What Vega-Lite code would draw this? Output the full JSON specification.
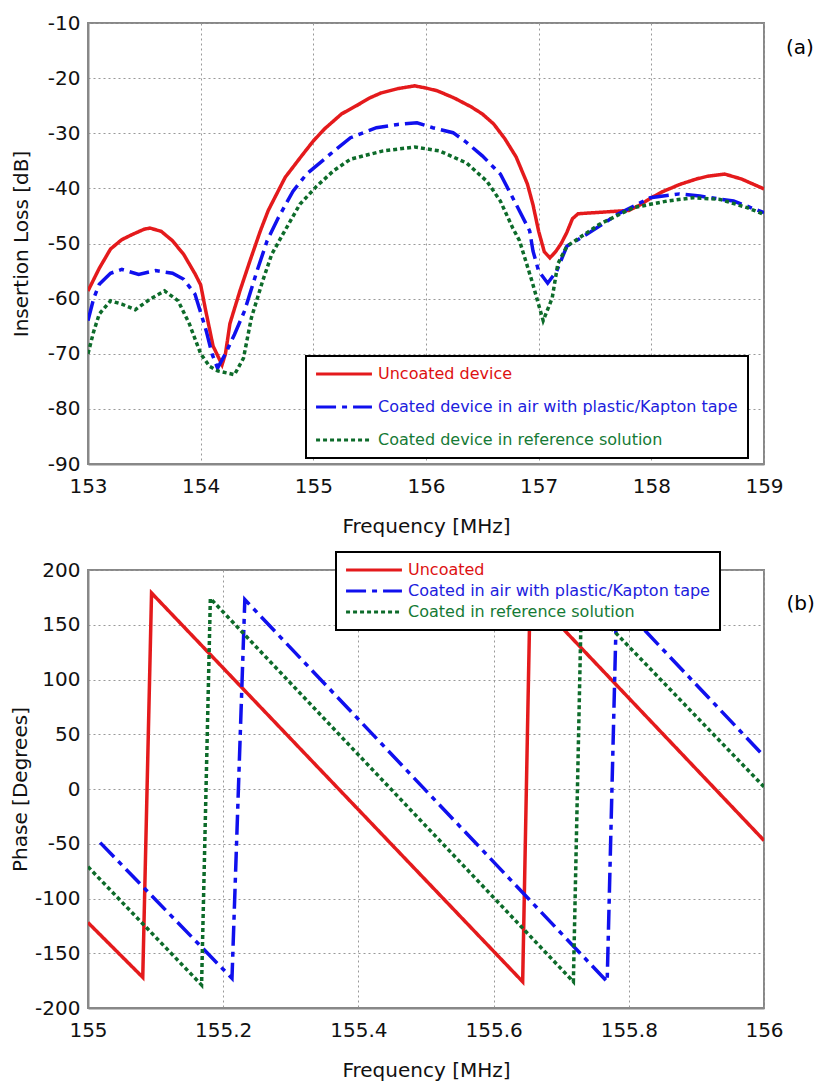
{
  "$schema": "https://vega.github.io/schema/vega-lite/v6.json",
  "background": "white",
  "padding": {"left": 9, "top": 12, "right": 0, "bottom": 0},
  "spacing": 13,
  "config": {
    "font": "DejaVu Sans",
    "view": {"stroke": "#888", "strokeWidth": 2},
    "axis": {
      "labelFontSize": 20, "titleFontSize": 20, "titleFontWeight": "normal",
      "labelColor": "#111", "titleColor": "#111",
      "gridColor": "#999", "gridDash": [2, 3], "gridWidth": 1,
      "domainColor": "#888", "domainWidth": 2,
      "tickSize": 0, "labelPadding": 8, "labelFlush": false, "labelOverlap": false,
      "labelExpr": "'' + datum.value"
    },
    "legend": {
      "labelFont": "DejaVu Sans", "labelFontSize": 16, "labelLimit": 600,
      "strokeColor": "black", "fillColor": "white", "strokeWidth": 2,
      "symbolType": "M-5,0H5", "symbolStrokeWidth": 3, "symbolSize": 125,
      "symbolOffset": 20, "labelOffset": 26, "padding": 10,
      "labelColor": {"expr": "datum.value == 'A' ? '#dd1111' : datum.value == 'B' ? '#2020dd' : '#157a35'"}
    }
  },
  "datasets": {
    "a": [
      {"f": 153.0, "v": -58.6, "s": "A"}, {"f": 153.1, "v": -54.5, "s": "A"}, {"f": 153.2, "v": -51, "s": "A"},
      {"f": 153.3, "v": -49.3, "s": "A"}, {"f": 153.4, "v": -48.3, "s": "A"}, {"f": 153.5, "v": -47.4, "s": "A"},
      {"f": 153.55, "v": -47.2, "s": "A"}, {"f": 153.65, "v": -47.8, "s": "A"}, {"f": 153.75, "v": -49.5, "s": "A"},
      {"f": 153.85, "v": -52, "s": "A"}, {"f": 153.95, "v": -55.5, "s": "A"}, {"f": 154.0, "v": -57.5, "s": "A"},
      {"f": 154.04, "v": -61.7, "s": "A"}, {"f": 154.11, "v": -68.6, "s": "A"}, {"f": 154.19, "v": -72, "s": "A"},
      {"f": 154.22, "v": -70, "s": "A"}, {"f": 154.26, "v": -64.5, "s": "A"}, {"f": 154.35, "v": -58.5, "s": "A"},
      {"f": 154.44, "v": -53, "s": "A"}, {"f": 154.53, "v": -47.7, "s": "A"}, {"f": 154.6, "v": -44, "s": "A"},
      {"f": 154.75, "v": -38, "s": "A"}, {"f": 154.9, "v": -34, "s": "A"}, {"f": 155.0, "v": -31.4, "s": "A"},
      {"f": 155.1, "v": -29.2, "s": "A"}, {"f": 155.25, "v": -26.5, "s": "A"}, {"f": 155.4, "v": -24.8, "s": "A"},
      {"f": 155.5, "v": -23.6, "s": "A"}, {"f": 155.6, "v": -22.7, "s": "A"}, {"f": 155.75, "v": -21.9, "s": "A"},
      {"f": 155.9, "v": -21.4, "s": "A"}, {"f": 156.0, "v": -21.8, "s": "A"}, {"f": 156.1, "v": -22.3, "s": "A"},
      {"f": 156.25, "v": -23.6, "s": "A"}, {"f": 156.4, "v": -25.2, "s": "A"}, {"f": 156.5, "v": -26.5, "s": "A"},
      {"f": 156.6, "v": -28.3, "s": "A"}, {"f": 156.7, "v": -31, "s": "A"}, {"f": 156.8, "v": -34.3, "s": "A"},
      {"f": 156.9, "v": -39.2, "s": "A"}, {"f": 156.95, "v": -43, "s": "A"}, {"f": 157.0, "v": -47.8, "s": "A"},
      {"f": 157.05, "v": -51.5, "s": "A"}, {"f": 157.1, "v": -52.6, "s": "A"}, {"f": 157.15, "v": -51.5, "s": "A"},
      {"f": 157.2, "v": -50, "s": "A"}, {"f": 157.25, "v": -48, "s": "A"}, {"f": 157.3, "v": -45.5, "s": "A"},
      {"f": 157.35, "v": -44.6, "s": "A"}, {"f": 157.5, "v": -44.4, "s": "A"}, {"f": 157.65, "v": -44.2, "s": "A"},
      {"f": 157.8, "v": -44, "s": "A"}, {"f": 157.9, "v": -43, "s": "A"}, {"f": 158.0, "v": -41.7, "s": "A"},
      {"f": 158.1, "v": -40.6, "s": "A"}, {"f": 158.25, "v": -39.3, "s": "A"}, {"f": 158.4, "v": -38.3, "s": "A"},
      {"f": 158.5, "v": -37.8, "s": "A"}, {"f": 158.65, "v": -37.4, "s": "A"}, {"f": 158.8, "v": -38.3, "s": "A"},
      {"f": 158.9, "v": -39.2, "s": "A"}, {"f": 159.0, "v": -40.1, "s": "A"},

      {"f": 153.0, "v": -64, "s": "B"}, {"f": 153.05, "v": -60, "s": "B"}, {"f": 153.1, "v": -57.4, "s": "B"},
      {"f": 153.2, "v": -55.4, "s": "B"}, {"f": 153.3, "v": -54.7, "s": "B"}, {"f": 153.45, "v": -55.6, "s": "B"},
      {"f": 153.6, "v": -54.9, "s": "B"}, {"f": 153.75, "v": -55.4, "s": "B"}, {"f": 153.85, "v": -56.5, "s": "B"},
      {"f": 153.95, "v": -59.2, "s": "B"}, {"f": 154.05, "v": -65.9, "s": "B"}, {"f": 154.1, "v": -70, "s": "B"},
      {"f": 154.15, "v": -72.6, "s": "B"}, {"f": 154.22, "v": -70, "s": "B"}, {"f": 154.3, "v": -66.5, "s": "B"},
      {"f": 154.39, "v": -62.2, "s": "B"}, {"f": 154.5, "v": -55, "s": "B"}, {"f": 154.59, "v": -49.5, "s": "B"},
      {"f": 154.69, "v": -45.3, "s": "B"}, {"f": 154.82, "v": -40.5, "s": "B"}, {"f": 154.94, "v": -37.4, "s": "B"},
      {"f": 155.15, "v": -33.8, "s": "B"}, {"f": 155.33, "v": -30.8, "s": "B"}, {"f": 155.56, "v": -29, "s": "B"},
      {"f": 155.75, "v": -28.4, "s": "B"}, {"f": 155.92, "v": -28.1, "s": "B"}, {"f": 156.06, "v": -29, "s": "B"},
      {"f": 156.24, "v": -29.9, "s": "B"}, {"f": 156.35, "v": -31.5, "s": "B"}, {"f": 156.5, "v": -34.1, "s": "B"},
      {"f": 156.66, "v": -37.4, "s": "B"}, {"f": 156.8, "v": -42.9, "s": "B"}, {"f": 156.92, "v": -47.7, "s": "B"},
      {"f": 156.95, "v": -51.4, "s": "B"}, {"f": 157.0, "v": -55, "s": "B"}, {"f": 157.08, "v": -57.2, "s": "B"},
      {"f": 157.16, "v": -55, "s": "B"}, {"f": 157.25, "v": -50.5, "s": "B"}, {"f": 157.43, "v": -48.3, "s": "B"},
      {"f": 157.7, "v": -44.7, "s": "B"}, {"f": 157.99, "v": -41.7, "s": "B"}, {"f": 158.25, "v": -41, "s": "B"},
      {"f": 158.43, "v": -41.4, "s": "B"}, {"f": 158.73, "v": -42.3, "s": "B"}, {"f": 159.0, "v": -44.4, "s": "B"},

      {"f": 153.0, "v": -70, "s": "C"}, {"f": 153.05, "v": -66, "s": "C"}, {"f": 153.1, "v": -62.8, "s": "C"},
      {"f": 153.2, "v": -60.4, "s": "C"}, {"f": 153.3, "v": -61, "s": "C"}, {"f": 153.42, "v": -62, "s": "C"},
      {"f": 153.55, "v": -60.1, "s": "C"}, {"f": 153.68, "v": -58.6, "s": "C"}, {"f": 153.8, "v": -60.4, "s": "C"},
      {"f": 153.9, "v": -64.6, "s": "C"}, {"f": 154.0, "v": -70, "s": "C"}, {"f": 154.08, "v": -72.3, "s": "C"},
      {"f": 154.15, "v": -73.1, "s": "C"}, {"f": 154.3, "v": -73.8, "s": "C"}, {"f": 154.38, "v": -70.8, "s": "C"},
      {"f": 154.45, "v": -63.5, "s": "C"}, {"f": 154.55, "v": -56.8, "s": "C"}, {"f": 154.63, "v": -52, "s": "C"},
      {"f": 154.73, "v": -48.3, "s": "C"}, {"f": 154.88, "v": -42.9, "s": "C"}, {"f": 155.03, "v": -39.6, "s": "C"},
      {"f": 155.18, "v": -36.8, "s": "C"}, {"f": 155.33, "v": -34.7, "s": "C"}, {"f": 155.62, "v": -33.2, "s": "C"},
      {"f": 155.9, "v": -32.5, "s": "C"}, {"f": 156.12, "v": -33.2, "s": "C"}, {"f": 156.36, "v": -35.4, "s": "C"},
      {"f": 156.54, "v": -38.7, "s": "C"}, {"f": 156.66, "v": -42.3, "s": "C"}, {"f": 156.77, "v": -47.2, "s": "C"},
      {"f": 156.83, "v": -49.5, "s": "C"}, {"f": 156.94, "v": -56.8, "s": "C"}, {"f": 157.04, "v": -64, "s": "C"},
      {"f": 157.12, "v": -59.9, "s": "C"}, {"f": 157.17, "v": -53.7, "s": "C"}, {"f": 157.25, "v": -50.5, "s": "C"},
      {"f": 157.54, "v": -46.5, "s": "C"}, {"f": 157.84, "v": -43.5, "s": "C"}, {"f": 158.14, "v": -42.3, "s": "C"},
      {"f": 158.37, "v": -41.7, "s": "C"}, {"f": 158.61, "v": -42, "s": "C"}, {"f": 158.85, "v": -43.5, "s": "C"},
      {"f": 159.0, "v": -44.7, "s": "C"}
    ],
    "b": [
      {"f": 155.0, "v": -122, "s": "A"}, {"f": 155.081, "v": -172, "s": "A"}, {"f": 155.094, "v": 179, "s": "A"},
      {"f": 155.643, "v": -176, "s": "A"}, {"f": 155.654, "v": 178, "s": "A"}, {"f": 156.0, "v": -47, "s": "A"},
      {"f": 155.018, "v": -49, "s": "B"}, {"f": 155.213, "v": -173, "s": "B"}, {"f": 155.232, "v": 173, "s": "B"},
      {"f": 155.768, "v": -176, "s": "B"}, {"f": 155.782, "v": 172, "s": "B"}, {"f": 156.0, "v": 30, "s": "B"},
      {"f": 155.0, "v": -71, "s": "C"}, {"f": 155.168, "v": -179, "s": "C"}, {"f": 155.181, "v": 174, "s": "C"},
      {"f": 155.718, "v": -176, "s": "C"}, {"f": 155.73, "v": 175, "s": "C"}, {"f": 156.0, "v": 2, "s": "C"}
    ]
  },
  "resolve": {"legend": {"color": "independent", "strokeDash": "independent"}},
  "vconcat": [
    {
      "width": 676, "height": 441,
      "title": {"text": "(a)", "orient": "right", "anchor": "start", "angle": 0, "fontSize": 20, "fontWeight": "normal", "font": "DejaVu Sans", "offset": -25, "dy": 25},
      "data": {"name": "a"},
      "mark": {"type": "line", "strokeWidth": 3.5, "clip": true},
      "encoding": {
        "x": {"field": "f", "type": "quantitative", "scale": {"domain": [153, 159], "nice": false, "zero": false},
              "axis": {"title": "Frequency [MHz]", "values": [153, 154, 155, 156, 157, 158, 159], "labelPadding": 12, "titlePadding": 20}},
        "y": {"field": "v", "type": "quantitative", "scale": {"domain": [-90, -10], "nice": false, "zero": false},
              "axis": {"title": "Insertion Loss [dB]", "values": [-90, -80, -70, -60, -50, -40, -30, -20, -10], "titlePadding": 16}},
        "color": {"field": "s", "type": "nominal",
                  "scale": {"domain": ["A", "B", "C"], "range": ["#e41a1c", "#1010ee", "#0d6b2a"]},
                  "legend": {"title": null, "orient": "none", "legendX": 218, "legendY": 333, "rowPadding": 17,
                             "labelExpr": "datum.value == 'A' ? 'Uncoated device' : datum.value == 'B' ? 'Coated device in air with plastic/Kapton tape' : 'Coated device in reference solution'"}},
        "strokeDash": {"field": "s", "type": "nominal",
                  "scale": {"domain": ["A", "B", "C"], "range": [[1, 0], [20, 6, 5, 6], [4, 3]]},
                  "legend": {"title": null, "orient": "none", "legendX": 218, "legendY": 333, "rowPadding": 17,
                             "labelExpr": "datum.value == 'A' ? 'Uncoated device' : datum.value == 'B' ? 'Coated device in air with plastic/Kapton tape' : 'Coated device in reference solution'"}}
      }
    },
    {
      "width": 676, "height": 438,
      "title": {"text": "(b)", "orient": "right", "anchor": "start", "angle": 0, "fontSize": 20, "fontWeight": "normal", "font": "DejaVu Sans", "offset": -25, "dy": 43},
      "data": {"name": "b"},
      "mark": {"type": "line", "strokeWidth": 3.5, "clip": true},
      "encoding": {
        "x": {"field": "f", "type": "quantitative", "scale": {"domain": [155, 156], "nice": false, "zero": false},
              "axis": {"title": "Frequency [MHz]", "values": [155, 155.2, 155.4, 155.6, 155.8, 156], "labelPadding": 12, "titlePadding": 20}},
        "y": {"field": "v", "type": "quantitative", "scale": {"domain": [-200, 200], "nice": false, "zero": false},
              "axis": {"title": "Phase [Degrees]", "values": [-200, -150, -100, -50, 0, 50, 100, 150, 200], "titlePadding": 4}},
        "color": {"field": "s", "type": "nominal",
                  "scale": {"domain": ["A", "B", "C"], "range": ["#e41a1c", "#1010ee", "#0d6b2a"]},
                  "legend": {"title": null, "orient": "none", "legendX": 248, "legendY": -18, "rowPadding": 5,
                             "labelExpr": "datum.value == 'A' ? 'Uncoated' : datum.value == 'B' ? 'Coated in air with plastic/Kapton tape' : 'Coated in reference solution'"}},
        "strokeDash": {"field": "s", "type": "nominal",
                  "scale": {"domain": ["A", "B", "C"], "range": [[1, 0], [20, 6, 5, 6], [4, 3]]},
                  "legend": {"title": null, "orient": "none", "legendX": 248, "legendY": -18, "rowPadding": 5,
                             "labelExpr": "datum.value == 'A' ? 'Uncoated' : datum.value == 'B' ? 'Coated in air with plastic/Kapton tape' : 'Coated in reference solution'"}}
      }
    }
  ]
}
